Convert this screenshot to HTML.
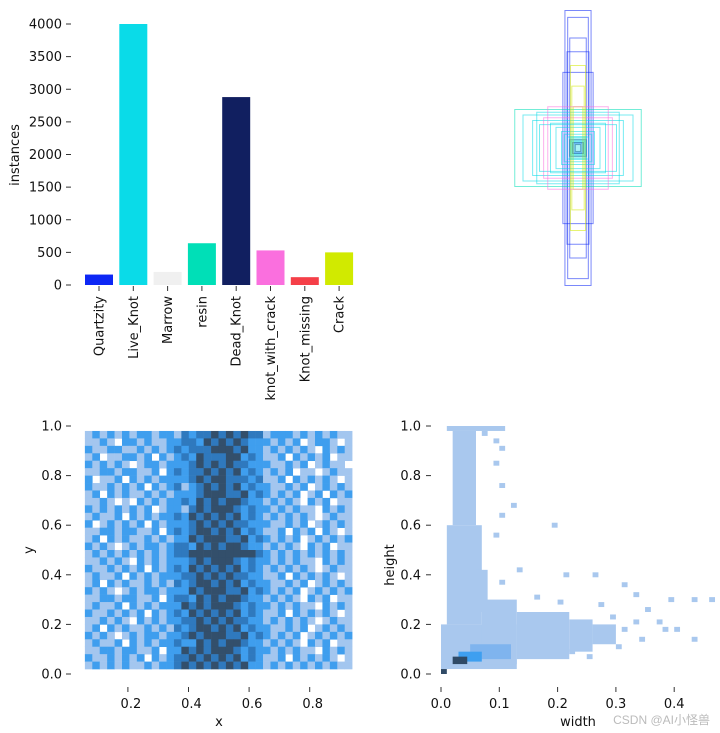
<!DOCTYPE html>
<html><head><meta charset="utf-8">
<style>
html,body{margin:0;padding:0;background:#fff;}
svg{display:block;font-family:"DejaVu Sans","Liberation Sans",sans-serif;}
</style></head>
<body>
<svg id="fig" width="720" height="733" viewBox="0 0 720 733" xmlns="http://www.w3.org/2000/svg">
<g id="bars"></g>
<g id="boxes"></g>
<g id="xy"></g>
<g id="wh"></g>
<text x="710" y="724" font-size="12" fill="#bbb" text-anchor="end" font-family="Liberation Sans, Noto Sans CJK SC, sans-serif">CSDN @AI小怪兽</text>
</svg>
<script>
const classNames = ["Quartzity","Live_Knot","Marrow","resin","Dead_Knot","knot_with_crack","Knot_missing","Crack"];
const classCounts = [160,4000,200,640,2880,530,120,500];
const classColors = ["#0d27f5","#0adbe8","#f0f0f0","#00dfb7","#111f60","#fa6fde","#f53f48","#d1ea00"];
const barTicks = [0,500,1000,1500,2000,2500,3000,3500,4000];

const boxW = [0.095,0.075,0.06,0.11,0.08,0.46,0.4,0.33,0.3,0.25,0.2,0.16,0.12,0.1,0.08,0.06,0.05,0.04,0.03,0.02,0.055,0.045,0.035,0.28,0.22];
const boxH = [1.0,0.95,0.8,0.55,0.7,0.28,0.24,0.2,0.26,0.22,0.18,0.15,0.12,0.1,0.08,0.06,0.05,0.04,0.035,0.025,0.6,0.45,0.3,0.17,0.3];
const boxC = [0,0,0,0,0,3,1,1,1,5,1,1,1,1,1,4,1,4,0,4,7,7,7,1,5];

const xyRows = [
"121212122122132334343433122212121211",
"112102212112233243434322212120122101",
"211221121212323334443422121212102121",
"120112212021232433344232112021212011",
"212121012212223434343322211212012110",
"112212211202323343434232121201101211",
"201120212122223434433323112021212101",
"211212120212312343434232211212012121",
"120212112121222344433423212120120212",
"112101021212232434344322121210212011",
"212121212012213434443232212121102121",
"121120212122324343434232121212101211",
"201212120212223434343322211212012121",
"112212211202323443434232112021202101",
"120212112121224344433423212120121212",
"212101212212332434344322121210212011",
"121212121212334444444443212121212121",
"112121021212223434443232212121102121",
"211212120212324343434232121212101211",
"121120212122233434343322112021212101",
"120212112121323443434232211212012121",
"212101212212224344433423212120121212",
"112212211202332434344322121210212011",
"121120212122243434443232212121102121",
"211212120212324343434232112021212101",
"112121021212233434343322121212101211",
"120212112121323443434232211212012121",
"212101212212234344433423212120121212",
"121120212122322434344322121210212011",
"112212211202243434443232212121102121",
"211212120212334343434232112021212101",
"121212112122343434343422121212121211"];
const xyColors = ["#ffffff","#a3c6ef","#3f9eee","#2f79be","#334f6b"];
const xyTicks = [0.0,0.2,0.4,0.6,0.8,1.0];
const xTicks = [0.2,0.4,0.6,0.8];

const whRegions = [
[0.01,0.11,0.98,1.0,1],[0.02,0.06,0.6,0.98,1],[0.01,0.07,0.2,0.6,1],[0.0,0.13,0.02,0.2,1],
[0.07,0.13,0.04,0.3,1],[0.13,0.22,0.06,0.25,1],[0.22,0.26,0.09,0.22,1],[0.26,0.3,0.12,0.2,1],
[0.06,0.08,0.25,0.42,1],[0.05,0.12,0.06,0.12,2],[0.03,0.07,0.05,0.09,3],[0.02,0.045,0.04,0.07,4],[0.0,0.01,0.0,0.02,4]];
const whDotsW = [0.09,0.1,0.12,0.1,0.19,0.09,0.13,0.1,0.21,0.26,0.31,0.33,0.39,0.43,0.46,0.35,0.33,0.37,0.4,0.43,0.34,0.38,0.16,0.2,0.27,0.29,0.25,0.22,0.3,0.31,0.1,0.07,0.09];
const whDotsH = [0.84,0.75,0.67,0.63,0.59,0.55,0.41,0.36,0.39,0.39,0.35,0.31,0.29,0.29,0.29,0.25,0.2,0.2,0.17,0.13,0.13,0.17,0.3,0.28,0.27,0.22,0.06,0.08,0.1,0.17,0.9,0.96,0.93];
const whColors = ["#ffffff","#a9c8ee","#7fb4ee","#3e9ff0","#2f4a66"];
const whYTicks = [0.0,0.2,0.4,0.6,0.8,1.0];
const whXTicks = [0.0,0.1,0.2,0.3,0.4];

const NS="http://www.w3.org/2000/svg";
function mk(parent,tag,attrs){const e=document.createElementNS(NS,tag);for(const k in attrs)e.setAttribute(k,attrs[k]);parent.appendChild(e);return e;}
function txt(parent,x,y,s,anchor,extra){const t=mk(parent,"text",Object.assign({x:x,y:y,"font-size":"13","fill":"#111","text-anchor":anchor},extra||{}));t.textContent=s;return t;}

(function(){
  const g=document.getElementById("bars");
  const yb=285, yt=24, vmax=4000;
  const ys=v=>yb-(v/vmax)*(yb-yt);
  const step=34.3, x0=99, bw=28;
  barTicks.forEach(v=>{
    const l=mk(g,"line",{x1:66,x2:71,y1:ys(v),y2:ys(v),stroke:"#333","stroke-width":1});
    
    
    const t=txt(g,62,ys(v)+4.5,String(v),"end");
    
    
  });
  classNames.forEach((n,i)=>{
    const cx=x0+i*step;
    const r=mk(g,"rect",{x:cx-bw/2,y:ys(classCounts[i]),width:bw,height:yb-ys(classCounts[i]),fill:classColors[i]});
    
    
    const tk=mk(g,"line",{x1:cx,x2:cx,y1:286,y2:291,stroke:"#333","stroke-width":1});
    
    
    const t=txt(g,0,0,n,"end",{transform:"translate("+(cx+4.5)+",296) rotate(-90)"});
    
    
  });
  const yt2=txt(g,0,0,"instances","middle",{transform:"translate(19,155) rotate(-90)"});
  
  
})();

(function(){
  const g=document.getElementById("boxes");
  const cx=578, cy=148, S=275;
  const colors=classColors.map((c,i)=>i===2?"#bbbbbb":c);
  boxW.forEach((w,i)=>{
    const r=mk(g,"rect",{x:cx-w*S/2,y:cy-boxH[i]*S/2,width:w*S,height:boxH[i]*S,fill:"none",stroke:colors[boxC[i]],"stroke-opacity":0.55,"stroke-width":1});
    
    
  });
  const f=mk(g,"rect",{x:cx-9,y:cy-12,width:18,height:24,fill:"#0adbe8","fill-opacity":0.35});
  
  
})();

(function(){
  const g=document.getElementById("xy");
  const X=v=>67.3+v*303, Y=v=>674-v*248;
  const ncol=xyRows[0].length, nrow=xyRows.length;
  const xa=0.058, xb=0.94, ya=0.02, yb=0.98;
  const cw=(X(xb)-X(xa))/ncol, ch=(Y(ya)-Y(yb))/nrow;
  xyRows.forEach((row,ri)=>{
    for(let ci=0;ci<ncol;ci++){
      const lv=+row[ci]; if(!lv) continue;
      const r=mk(g,"rect",{x:X(xa)+ci*cw,y:Y(yb)+ri*ch,width:cw+0.3,height:ch+0.3,fill:xyColors[lv]});
      
      
    }
  });
  xyTicks.forEach(v=>{
    const l=mk(g,"line",{x1:66,x2:71,y1:Y(v),y2:Y(v),stroke:"#333"});
    
    
    const t=txt(g,62,Y(v)+4.5,v.toFixed(1),"end");
    
    
  });
  xTicks.forEach(v=>{
    const l=mk(g,"line",{x1:X(v),x2:X(v),y1:687,y2:692,stroke:"#333"});
    
    
    const t=txt(g,X(v)+3,708,v.toFixed(1),"middle");
    
    
  });
  const xt=txt(g,219,726,"x","middle");
  
  
  const yt=txt(g,0,0,"y","middle",{transform:"translate(33,550) rotate(-90)"});
  
  
})();

(function(){
  const g=document.getElementById("wh");
  const X=v=>441+v*583, Y=v=>674-v*248;
  whRegions.forEach(r=>{
    const e=mk(g,"rect",{x:X(r[0]),y:Y(r[3]),width:X(r[1])-X(r[0]),height:Y(r[2])-Y(r[3]),fill:whColors[r[4]]});
    
    
  });
  whDotsW.forEach((w,i)=>{
    const e=mk(g,"rect",{x:X(w),y:Y(whDotsH[i]+0.02),width:X(0.01)-X(0),height:Y(0)-Y(0.02),fill:whColors[1]});
    
    
  });
  whYTicks.forEach(v=>{
    const l=mk(g,"line",{x1:426,x2:431,y1:Y(v),y2:Y(v),stroke:"#333"});
    
    
    const t=txt(g,421,Y(v)+4.5,v.toFixed(1),"end");
    
    
  });
  whXTicks.forEach(v=>{
    const l=mk(g,"line",{x1:X(v),x2:X(v),y1:687,y2:692,stroke:"#333"});
    
    
    const t=txt(g,X(v),708,v.toFixed(1),"middle");
    
    
  });
  const xt=txt(g,578,726,"width","middle");
  
  
  const yt=txt(g,0,0,"height","middle",{transform:"translate(394,565) rotate(-90)"});
  
  
})();
</script>
</body></html>
